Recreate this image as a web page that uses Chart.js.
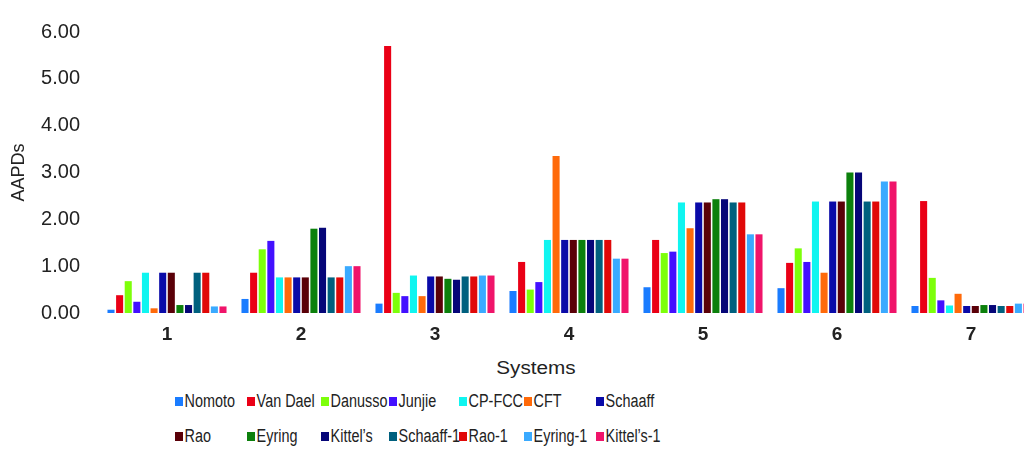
<!DOCTYPE html>
<html>
<head>
<meta charset="utf-8">
<script src="https://cdn.jsdelivr.net/npm/chart.js@4"></script>
<style>
  html, body { margin: 0; padding: 0; background: #fff; overflow: hidden; width: 1024px; height: 449px; }
  body { position: relative; font-family: "Liberation Sans", Arial, sans-serif; color: #222; }
  #wrap { position: absolute; left: 0; top: 0; width: 1040px; height: 350px; }
  #xTitle { position: absolute; left: 536px; top: 368px; transform: translate(-50%, -50%) scaleX(1.15); font-size: 18px; white-space: nowrap; }
  .lg { position: absolute; font-size: 18px; white-space: nowrap; line-height: 20px; transform: scaleX(0.8); transform-origin: 0 50%; }
  .lg i { display: inline-block; width: 10px; height: 9px; margin-right: 2px; vertical-align: 1px; }
</style>
</head>
<body>
<div id="wrap"><canvas id="c" width="1040" height="350"></canvas></div>
<div id="xTitle">Systems</div>
<div id="legend"></div>
<script>
/* ---------- data ---------- */
const systems = ["1", "2", "3", "4", "5", "6", "7"];
const yTicks = [0, 1, 2, 3, 4, 5, 6];

const seriesNames = ["Nomoto", "Van Dael", "Danusso", "Junjie", "CP-FCC", "CFT", "Schaaff",
                     "Rao", "Eyring", "Kittel\u2019s", "Schaaff-1", "Rao-1", "Eyring-1", "Kittel\u2019s-1"];

const nomoto    = [0.07, 0.30, 0.20, 0.47, 0.55, 0.53, 0.15];
const vanDael   = [0.38, 0.86, 5.70, 1.09, 1.56, 1.07, 2.39];
const danusso   = [0.68, 1.36, 0.43, 0.50, 1.28, 1.38, 0.75];
const junjie    = [0.24, 1.54, 0.36, 0.66, 1.31, 1.09, 0.27];
const cpFcc     = [0.86, 0.76, 0.80, 1.56, 2.36, 2.38, 0.16];
const cft       = [0.10, 0.76, 0.36, 3.35, 1.81, 0.86, 0.41];
const schaaff   = [0.86, 0.76, 0.78, 1.56, 2.36, 2.38, 0.15];
const rao       = [0.86, 0.76, 0.78, 1.56, 2.36, 2.38, 0.15];
const eyring    = [0.17, 1.80, 0.73, 1.56, 2.43, 3.00, 0.17];
const kittels   = [0.17, 1.82, 0.71, 1.56, 2.43, 3.00, 0.17];
const schaaff1  = [0.86, 0.76, 0.78, 1.56, 2.36, 2.38, 0.15];
const rao1      = [0.86, 0.76, 0.78, 1.56, 2.36, 2.38, 0.15];
const eyring1   = [0.14, 1.00, 0.80, 1.16, 1.68, 2.81, 0.20];
const kittels1  = [0.14, 1.00, 0.80, 1.16, 1.68, 2.81, 0.20];

const seriesValues = [nomoto, vanDael, danusso, junjie, cpFcc, cft, schaaff,
                      rao, eyring, kittels, schaaff1, rao1, eyring1, kittels1];

const seriesColors = ["#1a7cff", "#ea0016", "#7dff0a", "#4310ff", "#10f5f0", "#ff6a0a", "#0a0aa8",
                      "#5a0008", "#0c800c", "#060678", "#00607e", "#e00808", "#3aaaff", "#f0146a"];

/* ---------- chart ---------- */
const font = "'Liberation Sans', Arial, sans-serif";

const datasets = seriesNames.map((name, i) => ({
  label: name,
  data: seriesValues[i],
  backgroundColor: seriesColors[i],
  borderWidth: 0,
  categoryPercentage: 0.9,
  barPercentage: 0.82
}));

const chart = new Chart(document.getElementById("c"), {
  type: "bar",
  data: { labels: systems, datasets: datasets },
  options: {
    responsive: false,
    animation: false,
    devicePixelRatio: 1,
    layout: { padding: { top: 23, right: 2, left: 0, bottom: 0 } },
    plugins: { legend: { display: false }, tooltip: { enabled: false } },
    scales: {
      x: {
        grid: { display: false, drawTicks: false },
        border: { display: false },
        ticks: { color: "#222", padding: 10, font: { family: font, size: 19, weight: "bold" } },
        afterFit: s => { s.height = 37; }
      },
      y: {
        min: 0, max: 6,
        afterBuildTicks: s => { s.ticks = yTicks.map(v => ({ value: v })); },
        grid: { display: false, drawTicks: false },
        border: { display: false },
        ticks: { color: "#222", padding: 20, font: { family: font, size: 20 },
                 callback: v => Number(v).toFixed(2) },
        title: { display: true, text: "AAPDs", color: "#222", padding: { top: 8, bottom: 0 },
                 font: { family: font, size: 18 } },
        afterFit: s => { s.width = 100; }
      }
    }
  }
});

/* ---------- html legend, 7 columns x 2 rows ---------- */
const colX = [175, 247, 321, 389, 459, 524, 596];
const rowY = [391, 426];
const lg = document.getElementById("legend");
chart.data.datasets.forEach((ds, i) => {
  const d = document.createElement("div");
  d.className = "lg";
  d.style.left = colX[i % 7] + "px";
  d.style.top = rowY[Math.floor(i / 7)] + "px";
  d.innerHTML = '<i style="background:' + ds.backgroundColor + '"></i>' + ds.label;
  lg.appendChild(d);
});
</script>
</body>
</html>
